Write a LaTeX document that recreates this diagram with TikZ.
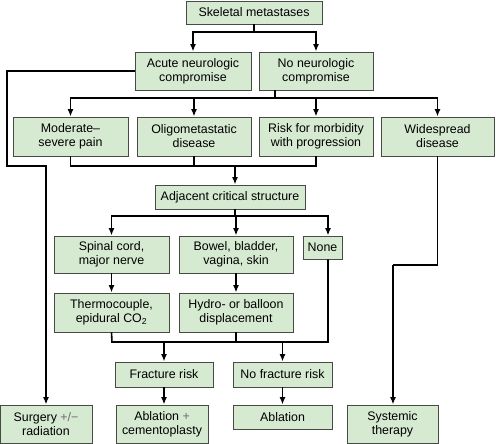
\documentclass[tikz,border=0pt]{standalone}
\usepackage{fontspec}
\setmainfont{Liberation Sans}
\usepackage{xcolor}
\usetikzlibrary{arrows.meta}
\definecolor{boxfill}{RGB}{214,234,210}
\definecolor{boxline}{RGB}{70,75,70}
\definecolor{signgray}{RGB}{110,110,110}

\begin{document}
\begin{tikzpicture}[x=1pt,y=-1pt,
  box/.style={draw=boxline, line width=0.9pt, fill=boxfill, align=center, inner sep=0pt,
    font=\fontsize{12.4}{14}\selectfont},
  link/.style={line width=1.6pt},
  arr/.style={link, -{Latex[length=7.5pt,width=6pt]}}]
\useasboundingbox (0,0) rectangle (496,444);
\newcommand{\plusminus}{\textcolor{signgray}{+/\textminus}}
% boxes
\node[box, minimum width=136pt, minimum height=23pt] (skel) at (254,12.5) {Skeletal metastases};
\node[box, minimum width=116pt, minimum height=38pt] (acute) at (193,71) {Acute neurologic\\compromise};
\node[box, minimum width=114pt, minimum height=38pt] (noneuro) at (316,71) {No neurologic\\compromise};
\node[box, minimum width=115pt, minimum height=39pt] (pain) at (70.5,136.5) {Moderate--\\severe pain};
\node[box, minimum width=114pt, minimum height=39pt] (oligo) at (194,136.5) {Oligometastatic\\disease};
\node[box, minimum width=114pt, minimum height=39pt] (risk) at (316,136.5) {Risk for morbidity\\with progression};
\node[box, minimum width=113pt, minimum height=39pt] (wide) at (437.5,136.5) {Widespread\\disease};
\node[box, minimum width=150pt, minimum height=24pt] (adj) at (230,197) {Adjacent critical structure};
\node[box, minimum width=115pt, minimum height=37pt] (spinal) at (111.5,254.5) {Spinal cord,\\major nerve};
\node[box, minimum width=114pt, minimum height=37pt] (bowel) at (236,254.5) {Bowel, bladder,\\vagina, skin};
\node[box, minimum width=39pt, minimum height=23pt] (none) at (322.5,247.5) {None};
\node[box, minimum width=115pt, minimum height=39pt] (thermo) at (111.5,312.5) {Thermocouple,\\epidural CO\textsubscript{2}};
\node[box, minimum width=114pt, minimum height=39pt] (hydro) at (236,312.5) {Hydro- or balloon\\displacement};
\node[box, minimum width=98pt, minimum height=25pt] (frac) at (164,374.5) {Fracture risk};
\node[box, minimum width=99pt, minimum height=25pt] (nofrac) at (282.5,374.5) {No fracture risk};
\node[box, minimum width=92pt, minimum height=38pt] (surg) at (46,424) {Surgery \plusminus\\radiation};
\node[box, minimum width=92pt, minimum height=38pt] (abcem) at (162,424) {Ablation \textcolor{signgray}{+}\\cementoplasty};
\node[box, minimum width=99pt, minimum height=24pt] (abl) at (282.5,417) {Ablation};
\node[box, minimum width=91pt, minimum height=38pt] (systh) at (392.5,424) {Systemic\\therapy};
% junctions
\coordinate (j1) at (254,32);
\coordinate (j2) at (7,166);
\coordinate (j3) at (275,98);
\coordinate (j4) at (235,166);
\coordinate (j5) at (235,216);
\coordinate (j6) at (328,342);
\coordinate (j7) at (112,342);
\coordinate (j8) at (393,265);
% connectors
\draw[link] (skel.south) -- (j1);
\draw[arr] (j1) -| (acute.north);
\draw[arr] (j1) -| (noneuro.north);
\draw[arr] (acute.west) -| (j2) -| (surg.north);
\draw[link] (j3 |- noneuro.south) -- (j3);
\draw[arr] (j3) -| (pain.north);
\draw[arr] (j3) -| (oligo.north);
\draw[arr] (j3) -| (risk.north);
\draw[arr] (j3) -| (wide.north);
\draw[link] (pain.south) |- (j4);
\draw[link] (risk.south) |- (j4);
\draw[link] (oligo.south) -- (oligo.south |- j4);
\draw[arr] (j4) -- (j4 |- adj.north);
\draw[link] (j5 |- adj.south) -- (j5);
\draw[arr] (j5) -| (spinal.north);
\draw[arr] (j5) -| (bowel.north);
\draw[arr] (j5) -| ([xshift=5.5pt]none.north);
\draw[arr] (spinal.south) -- (thermo.north);
\draw[arr] (bowel.south) -- (hydro.north);
\draw[link] (thermo.south) -- (j7) -- (j6) -- ([xshift=5.5pt]none.south);
\draw[link] (hydro.south) -- (hydro.south |- j6);
\draw[arr] (frac.north |- j6) -- (frac.north);
\draw[arr] (nofrac.north |- j6) -- (nofrac.north);
\draw[arr] (frac.south) -- (frac.south |- abcem.north);
\draw[arr] (nofrac.south) -- (abl.north);
\draw[link] (wide.south) |- (j8);
\draw[arr] (j8) -- (j8 |- systh.north);
\end{tikzpicture}
\end{document}
